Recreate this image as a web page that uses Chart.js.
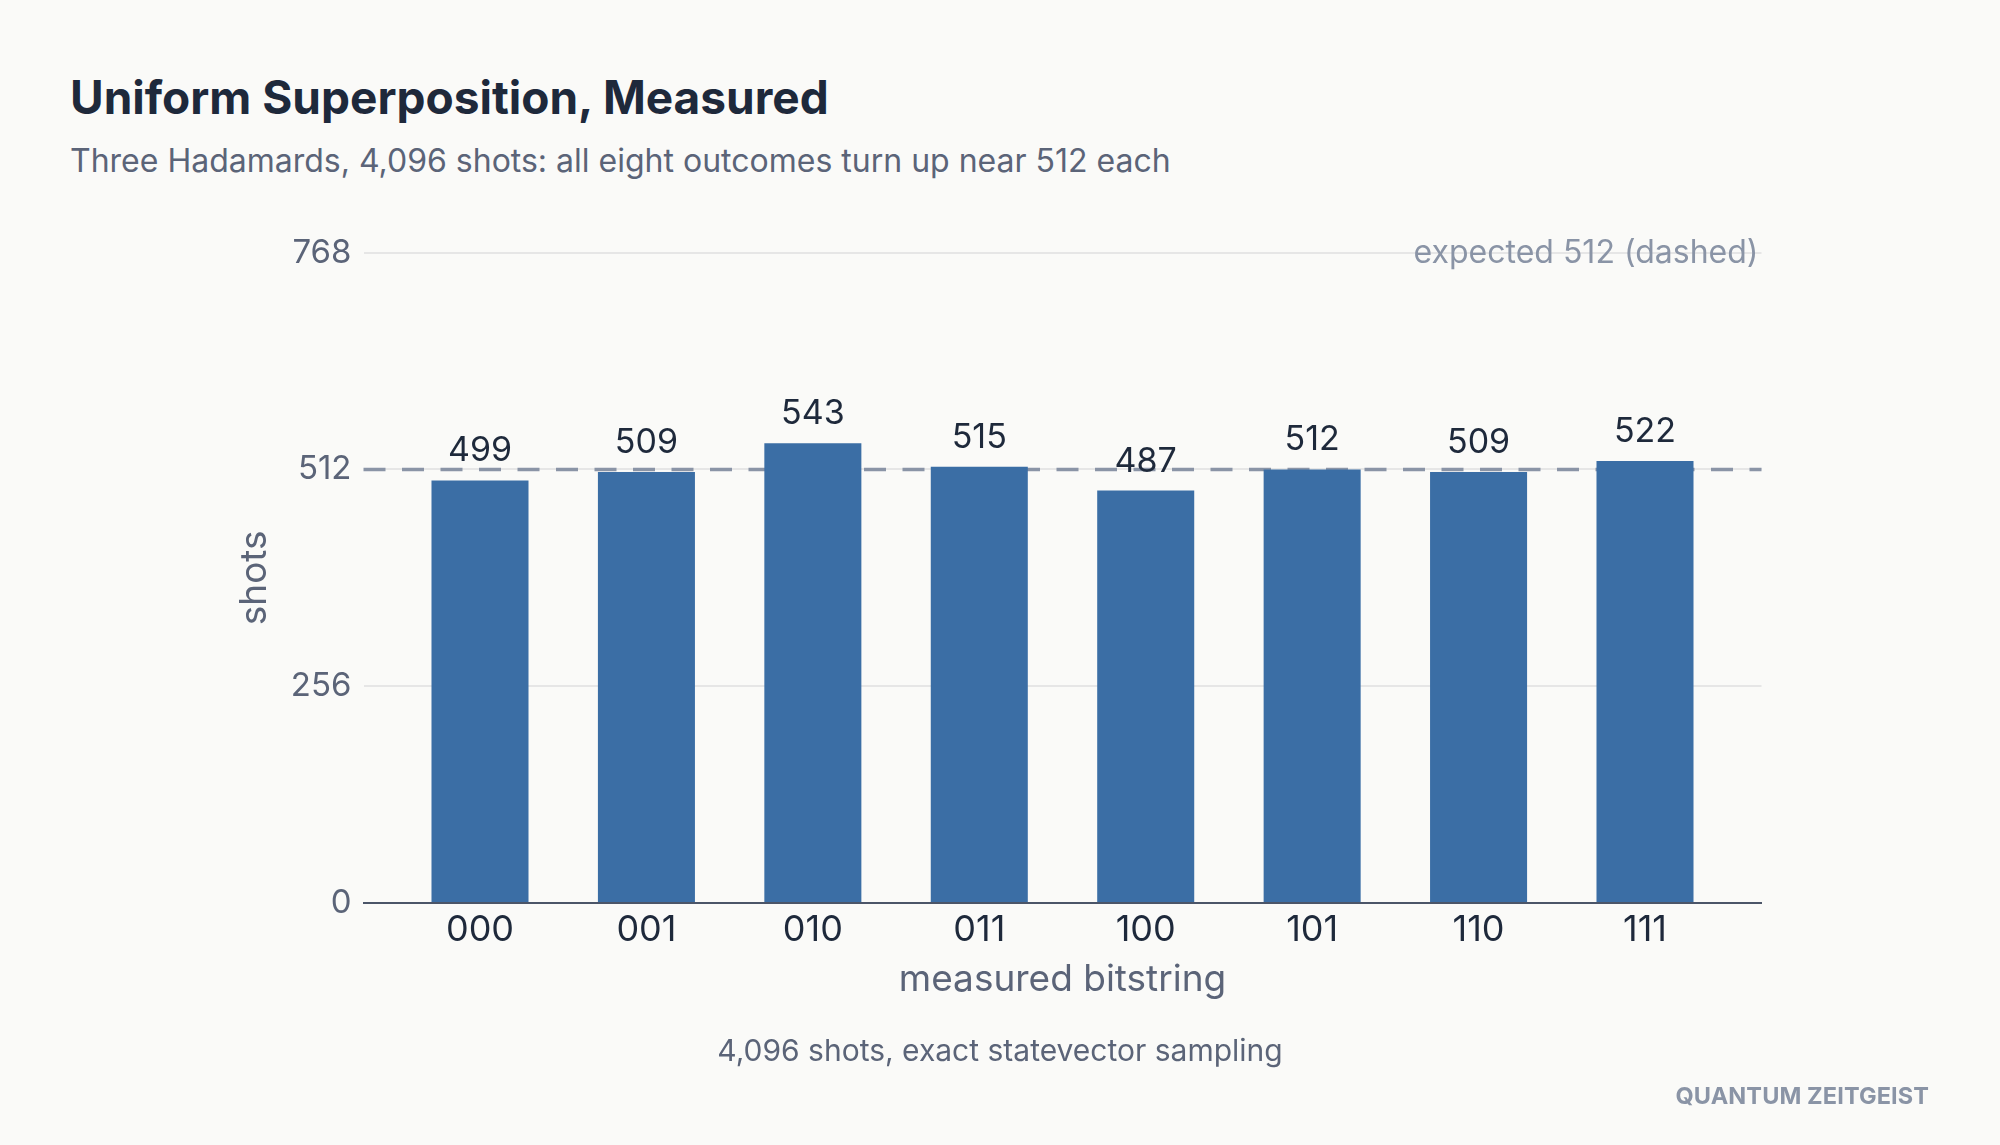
<!DOCTYPE html>
<html lang="en">
<head>
  <meta charset="UTF-8">
  <title>Uniform Superposition, Measured</title>
  <style>
    html, body { margin: 0; padding: 0; background: #fafaf8; }
    body { width: 2000px; height: 1145px; position: relative; overflow: hidden; font-family: Inter, "Noto Sans", sans-serif; }
    .title { position: absolute; left: 70px; top: 74px; font-size: 46px; line-height: 1; font-weight: 700; color: #1e293b; white-space: nowrap; }
    .subtitle { position: absolute; left: 70px; top: 145px; font-size: 32px; line-height: 1; color: #5b6478; white-space: nowrap; }
    .caption { position: absolute; left: 0; width: 2000px; text-align: center; top: 1035px; font-size: 30px; line-height: 1; color: #5b6478; }
    .brand { position: absolute; right: 71px; top: 1084px; font-size: 23.5px; line-height: 1; font-weight: 700; color: #8a94a6; letter-spacing: 0.1px; }
    #wrap { position: absolute; left: 0; top: 0; width: 2000px; height: 1145px; }
  </style>
</head>
<body>
  <div class="title">Uniform Superposition, Measured</div>
  <div class="subtitle">Three Hadamards, 4,096 shots: all eight outcomes turn up near 512 each</div>
  <div id="wrap"><canvas id="chart"></canvas></div>
  <div class="caption">4,096 shots, exact statevector sampling</div>
  <div class="brand">QUANTUM ZEITGEIST</div>

  <script src="https://cdn.jsdelivr.net/npm/chart.js"></script>
  <script>
    // data
    const bitstrings = ['000', '001', '010', '011', '100', '101', '110', '111'];
    const shots = [499, 509, 543, 515, 487, 512, 509, 522];
    const yTicks = [0, 256, 512, 768];
    const expected = 512;
    const expectedNote = 'expected 512 (dashed)';

    Chart.defaults.font.family = 'Inter, "Noto Sans", sans-serif';

    // dashed "expected" line, drawn behind the bars
    const expectedLine = {
      id: 'expectedLine',
      beforeDatasetsDraw(chart) {
        const { ctx, chartArea, scales } = chart;
        const y = scales.y.getPixelForValue(expected);
        ctx.save();
        ctx.strokeStyle = '#8a94a6';
        ctx.lineWidth = 3.5;
        ctx.setLineDash([22, 16.5]);
        ctx.beginPath();
        ctx.moveTo(chartArea.left, y);
        ctx.lineTo(chartArea.right, y);
        ctx.stroke();
        ctx.restore();
      },
      afterDatasetsDraw(chart) {
        const { ctx, chartArea, scales } = chart;
        ctx.save();
        // note in the top-right corner
        ctx.font = '32px Inter';
        ctx.fillStyle = '#8a94a6';
        ctx.textAlign = 'right';
        ctx.textBaseline = 'alphabetic';
        ctx.fillText(expectedNote, chartArea.right - 3, scales.y.getPixelForValue(yTicks[yTicks.length - 1]) + 10);

        // value labels over bars
        ctx.font = '34px Inter';
        ctx.fillStyle = '#1e293b';
        ctx.textAlign = 'center';
        chart.getDatasetMeta(0).data.forEach((bar, i) => {
          ctx.fillText(String(shots[i]), bar.x, bar.y - 19);
        });
        ctx.restore();
      }
    };

    new Chart(document.getElementById('chart'), {
      type: 'bar',
      data: {
        datasets: [{
          data: shots.map((v, i) => ({ x: i, y: v })),
          backgroundColor: '#3b6ea5',
          borderWidth: 0,
          categoryPercentage: 1,
          barPercentage: 0.583
        }]
      },
      options: {
        responsive: true,
        maintainAspectRatio: false,
        animation: false,
        layout: { padding: { left: 229, right: 238.5, top: 252.6, bottom: 139 } },
        plugins: { legend: { display: false }, tooltip: { enabled: false } },
        scales: {
          x: {
            type: 'linear',
            min: -0.7,
            max: 7.7,
            offset: false,
            grid: { display: false, offset: false, drawTicks: false },
            border: { display: true, color: '#4b5568', width: 2 },
            afterBuildTicks: s => { s.ticks = bitstrings.map((b, i) => ({ value: i })); },
            afterFit: s => { s.height = 103; },
            ticks: {
              padding: 6,
              color: '#1e293b',
              font: { size: 36 },
              maxRotation: 0,
              callback: v => bitstrings[v]
            },
            title: {
              display: true,
              text: 'measured bitstring',
              color: '#5b6478',
              font: { size: 37 },
              padding: { top: 4, bottom: 4 }
            }
          },
          y: {
            min: 0,
            max: 768,
            afterBuildTicks: s => { s.ticks = yTicks.map(v => ({ value: v })); },
            afterFit: s => { s.width = 134.5; },
            grid: { color: '#e6e6e6', lineWidth: 2, drawTicks: false },
            border: { display: false },
            ticks: { padding: 12, color: '#5b6478', font: { size: 33 } },
            title: {
              display: true,
              text: 'shots',
              color: '#5b6478',
              font: { size: 37 },
              padding: { top: 4, bottom: 4 }
            }
          }
        }
      },
      plugins: [expectedLine]
    });
  </script>
</body>
</html>
